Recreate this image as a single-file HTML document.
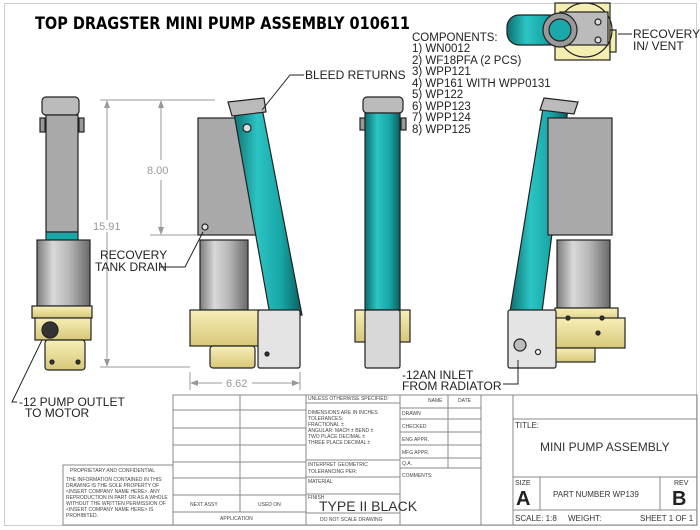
<!DOCTYPE html>
<html><head><meta charset="utf-8"><style>
html,body{margin:0;padding:0;background:#fff;}
svg{display:block;font-family:"Liberation Sans",sans-serif;}
.t{font-family:"DejaVu Sans","Liberation Sans",sans-serif;}
</style></head><body>
<svg width="700" height="530" viewBox="0 0 700 530" xmlns="http://www.w3.org/2000/svg">
<defs>
<linearGradient id="cyl" x1="0" x2="1" y1="0" y2="0">
<stop offset="0" stop-color="#7c7c7c"/><stop offset="0.3" stop-color="#d8d8d8"/><stop offset="0.6" stop-color="#b8b8b8"/><stop offset="1" stop-color="#6a6a6a"/></linearGradient>
<linearGradient id="teal" x1="0" x2="1" y1="0" y2="0">
<stop offset="0" stop-color="#0d6f6f"/><stop offset="0.35" stop-color="#2cc4c4"/><stop offset="0.7" stop-color="#18a6a6"/><stop offset="1" stop-color="#0a5e5e"/></linearGradient>
<linearGradient id="yel" x1="0" x2="0" y1="0" y2="1">
<stop offset="0" stop-color="#f6efb8"/><stop offset="1" stop-color="#d8c778"/></linearGradient>
</defs>
<rect x="4.5" y="3.5" width="692" height="522" fill="none" stroke="#ccc"/>
<text x="35" y="29" font-size="17" font-weight="bold" class="t" textLength="375" lengthAdjust="spacingAndGlyphs">TOP DRAGSTER MINI PUMP ASSEMBLY 010611</text>

<!-- View 1 -->
<g stroke="#222" stroke-width="1.2">
<rect x="42" y="97" width="37" height="18" rx="4" fill="#bbb"/>
<rect x="40" y="118" width="5" height="14" fill="#999"/><rect x="79" y="118" width="5" height="14" fill="#999"/>
<rect x="46" y="115" width="32" height="117" fill="#a9a9a9"/>
<rect x="46" y="232" width="32" height="8" fill="#1aa8a8"/>
<rect x="37" y="240" width="53" height="66" fill="url(#cyl)"/>
<rect x="32" y="306" width="60" height="12" fill="url(#yel)"/>
<rect x="35" y="318" width="56" height="22" fill="url(#yel)"/>
<rect x="45" y="340" width="40" height="30" rx="3" fill="url(#yel)"/>
<circle cx="50" cy="330" r="8" fill="#333"/>
<circle cx="52" cy="362" r="2" fill="#333"/><circle cx="78" cy="362" r="2" fill="#333"/>
</g>

<!-- dims -->
<g stroke="#999" stroke-width="1" fill="none">
<line x1="100" y1="100" x2="215" y2="100"/>
<line x1="150" y1="235" x2="200" y2="235"/>
<line x1="100" y1="367" x2="190" y2="367"/>
<line x1="107" y1="102" x2="107" y2="220"/><line x1="107" y1="232" x2="107" y2="365"/>
<line x1="161" y1="102" x2="161" y2="160"/><line x1="161" y1="180" x2="161" y2="233"/>
<line x1="190" y1="372" x2="190" y2="390"/><line x1="300" y1="372" x2="300" y2="390"/>
<line x1="192" y1="383" x2="222" y2="383"/><line x1="252" y1="383" x2="298" y2="383"/>
</g>
<g fill="#999"><polygon points="107,100 104,108 110,108"/><polygon points="107,367 104,359 110,359"/>
<polygon points="161,100 158,108 164,108"/><polygon points="161,235 158,227 164,227"/>
<polygon points="190,383 198,380 198,386"/><polygon points="300,383 292,380 292,386"/></g>
<text x="93" y="230" font-size="11" fill="#999">15.91</text>
<text x="147" y="174" font-size="11" fill="#999">8.00</text>
<text x="226" y="387" font-size="11" fill="#999">6.62</text>

<!-- View 2 -->
<g stroke="#222" stroke-width="1.2">
<rect x="198" y="118" width="62" height="117" fill="#a9a9a9"/>
<polygon points="233,108 262,108 302,315 270,315" fill="url(#teal)"/>
<polygon points="228,102 264,98 266,112 232,116" fill="#bbb"/>
<circle cx="247" cy="128" r="4" fill="#ddd"/>
<circle cx="205" cy="227" r="3" fill="#ddd"/>
<rect x="200" y="240" width="48" height="70" fill="url(#cyl)"/>
<rect x="190" y="310" width="70" height="36" fill="url(#yel)"/>
<rect x="210" y="346" width="45" height="22" rx="3" fill="url(#yel)"/>
<rect x="258" y="310" width="42" height="58" rx="2" fill="#e4e4e4"/>
<circle cx="267" cy="354" r="2" fill="#333"/>
</g>
<!-- View 3 -->
<g stroke="#222" stroke-width="1.2">
<rect x="363" y="97" width="40" height="16" rx="4" fill="#bbb"/>
<rect x="360" y="118" width="5" height="12" fill="#999"/><rect x="401" y="118" width="5" height="12" fill="#999"/>
<rect x="365" y="113" width="35" height="197" fill="url(#teal)"/>
<rect x="355" y="310" width="55" height="32" fill="url(#yel)"/>
<rect x="365" y="310" width="35" height="58" rx="2" fill="#d8d8d8"/>
</g>
<!-- View 4 -->
<g stroke="#222" stroke-width="1.2">
<polygon points="543,108 568,108 542,312 510,312" fill="url(#teal)"/>
<polygon points="544,98 578,102 574,114 540,110" fill="#bbb"/>
<circle cx="556" cy="128" r="4" fill="#ddd"/>
<rect x="548" y="118" width="64" height="117" fill="#a9a9a9"/>
<rect x="557" y="240" width="53" height="68" fill="url(#cyl)"/>
<rect x="555" y="308" width="63" height="16" fill="url(#yel)"/>
<rect x="555" y="318" width="70" height="30" fill="url(#yel)"/>
<rect x="555" y="348" width="40" height="14" fill="url(#yel)"/>
<rect x="508" y="310" width="48" height="58" rx="2" fill="#e4e4e4"/>
<circle cx="520" cy="345" r="6" fill="#bbb"/>
<circle cx="538" cy="352" r="2.5" fill="#fff"/>
<circle cx="568" cy="318" r="2" fill="#333"/><circle cx="602" cy="318" r="2" fill="#333"/><circle cx="598" cy="333" r="2" fill="#333"/>
</g>
<!-- Top view -->
<g stroke="#222" stroke-width="1.2">
<rect x="555" y="3" width="55" height="57" fill="#f4eeb0"/>
<rect x="610" y="30" width="6" height="22" fill="#f4eeb0"/>
<circle cx="585" cy="30" r="27" fill="none"/>
<rect x="560" y="12" width="48" height="33" fill="#bbb"/>
<rect x="507" y="15" width="55" height="30" rx="12" fill="url(#teal)"/>
<circle cx="560" cy="30" r="17" fill="#999"/>
<circle cx="560" cy="30" r="11" fill="#1aa8a8"/>
<circle cx="598" cy="22" r="3" fill="#ddd"/><circle cx="598" cy="40" r="3" fill="#ddd"/>
</g>

<!-- labels -->
<g stroke="#222" fill="none" stroke-width="1">
<polyline points="304,75 290,75 262,110"/>
<polyline points="618,34 632,34"/>
<polyline points="160,267 185,267 203,232"/>
<polyline points="17,402 12,402 42,340"/>
<polyline points="503,384 518,384 518,360"/>
</g>
<g font-size="12" fill="#222">
<text x="305" y="79">BLEED RETURNS</text>
<text x="633" y="38">RECOVERY</text><text x="633" y="50">IN/ VENT</text>
<text x="100" y="259">RECOVERY</text><text x="95" y="271">TANK DRAIN</text>
<text x="19" y="406">-12 PUMP OUTLET</text><text x="25" y="417">TO MOTOR</text>
<text x="402" y="379">-12AN INLET</text><text x="402" y="390">FROM RADIATOR</text>
</g>
<g font-size="11.5" fill="#222">
<text x="412" y="41">COMPONENTS:</text>
<text x="412" y="52">1) WN0012</text>
<text x="412" y="64">2) WF18PFA (2 PCS)</text>
<text x="412" y="75">3) WPP121</text>
<text x="412" y="87">4) WP161 WITH WPP0131</text>
<text x="412" y="98">5) WP122</text>
<text x="412" y="110">6) WPP123</text>
<text x="412" y="121">7) WPP124</text>
<text x="412" y="133">8) WPP125</text>
</g>

<!-- title block -->
<g stroke="#888" stroke-width="1" fill="none">
<rect x="173" y="395" width="524" height="130"/>
<line x1="240" y1="395" x2="240" y2="512"/>
<line x1="306" y1="395" x2="306" y2="525"/>
<line x1="400" y1="395" x2="400" y2="525"/>
<line x1="448" y1="395" x2="448" y2="468"/>
<line x1="481" y1="395" x2="481" y2="525"/>
<line x1="513" y1="395" x2="513" y2="525"/>
<line x1="173" y1="410" x2="306" y2="410"/><line x1="173" y1="428" x2="306" y2="428"/>
<line x1="173" y1="445" x2="306" y2="445"/><line x1="173" y1="462" x2="306" y2="462"/>
<line x1="173" y1="478" x2="306" y2="478"/><line x1="173" y1="495" x2="306" y2="495"/>
<line x1="173" y1="512" x2="306" y2="512"/>
<line x1="306" y1="403" x2="400" y2="403"/><line x1="306" y1="460" x2="400" y2="460"/>
<line x1="306" y1="477" x2="400" y2="477"/><line x1="306" y1="494" x2="400" y2="494"/>
<line x1="306" y1="513" x2="400" y2="513"/>
<line x1="400" y1="408" x2="481" y2="408"/><line x1="400" y1="419" x2="481" y2="419"/>
<line x1="400" y1="432" x2="481" y2="432"/><line x1="400" y1="445" x2="481" y2="445"/>
<line x1="400" y1="458" x2="481" y2="458"/><line x1="400" y1="468" x2="481" y2="468"/>
<line x1="513" y1="419" x2="697" y2="419"/><line x1="513" y1="477" x2="697" y2="477"/>
<line x1="513" y1="510" x2="697" y2="510"/>
<line x1="540" y1="477" x2="540" y2="510"/><line x1="660" y1="477" x2="660" y2="510"/>
<rect x="63" y="465" width="110" height="60"/>
</g>
<g font-size="5" fill="#444">
<text x="308" y="400">UNLESS OTHERWISE SPECIFIED:</text>
<text x="308" y="414">DIMENSIONS ARE IN INCHES</text>
<text x="308" y="420">TOLERANCES:</text>
<text x="308" y="426">FRACTIONAL ±</text>
<text x="308" y="432">ANGULAR: MACH ±  BEND ±</text>
<text x="308" y="438">TWO PLACE DECIMAL ±</text>
<text x="308" y="444">THREE PLACE DECIMAL ±</text>
<text x="308" y="466">INTERPRET GEOMETRIC</text>
<text x="308" y="473">TOLERANCING PER:</text>
<text x="308" y="483">MATERIAL</text>
<text x="308" y="499">FINISH</text>
<text x="320" y="521">DO NOT SCALE DRAWING</text>
<text x="428" y="402">NAME</text><text x="458" y="402">DATE</text>
<text x="402" y="415">DRAWN</text><text x="402" y="428">CHECKED</text>
<text x="402" y="441">ENG APPR.</text><text x="402" y="454">MFG APPR.</text>
<text x="402" y="465">Q.A.</text><text x="402" y="477">COMMENTS:</text>
<text x="190" y="506">NEXT ASSY</text><text x="258" y="506">USED ON</text>
<text x="220" y="520">APPLICATION</text>
<text x="70" y="472">PROPRIETARY AND CONFIDENTIAL</text>
<text x="66" y="481">THE INFORMATION CONTAINED IN THIS</text>
<text x="66" y="487">DRAWING IS THE SOLE PROPERTY OF</text>
<text x="66" y="493">&lt;INSERT COMPANY NAME HERE&gt;. ANY</text>
<text x="66" y="499">REPRODUCTION IN PART OR AS A WHOLE</text>
<text x="66" y="505">WITHOUT THE WRITTEN PERMISSION OF</text>
<text x="66" y="511">&lt;INSERT COMPANY NAME HERE&gt; IS</text>
<text x="66" y="517">PROHIBITED.</text>
</g>
<text x="319" y="511" font-size="14" fill="#333">TYPE II BLACK</text>
<text x="515" y="428" font-size="8" fill="#333">TITLE:</text>
<text x="540" y="451" font-size="12" fill="#333">MINI PUMP ASSEMBLY</text>
<text x="515" y="485" font-size="7" fill="#333">SIZE</text>
<text x="516" y="505" font-size="20" font-weight="bold" fill="#222">A</text>
<text x="553" y="497" font-size="8" fill="#333">PART NUMBER WP139</text>
<text x="674" y="485" font-size="7" fill="#333">REV</text>
<text x="672" y="505" font-size="20" font-weight="bold" fill="#222">B</text>
<text x="515" y="521" font-size="8" fill="#333">SCALE: 1:8</text>
<text x="568" y="521" font-size="8" fill="#333">WEIGHT:</text>
<text x="640" y="521" font-size="8" fill="#333">SHEET 1 OF 1</text>
</svg>
</body></html>
